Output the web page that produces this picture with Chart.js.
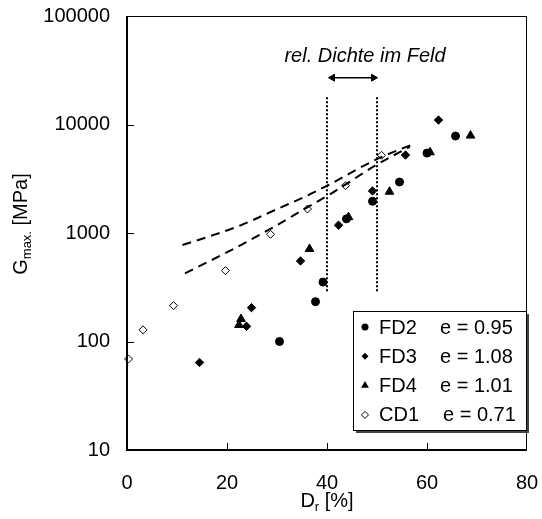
<!DOCTYPE html>
<html>
<head>
<meta charset="utf-8">
<script src="https://cdn.jsdelivr.net/npm/chart.js@4.4.0/dist/chart.umd.min.js"></script>
<style>
  html, body { margin: 0; padding: 0; background: #fff; }
  #wrap { width: 542px; height: 519px; }
</style>
</head>
<body>
<div id="wrap"><canvas id="chart" width="542" height="519"></canvas></div>
<script>
// measured series (Dr in %, Gmax in MPa)
const fd2X = [30.5, 37.7, 39.2, 43.9, 49.1, 54.5, 60.0, 65.7];
const fd2Y = [100, 233, 353, 1350, 1960, 2950, 5450, 7830];
const fd3X = [14.5, 23.9, 24.9, 34.7, 42.3, 49.1, 55.7, 62.3];
const fd3Y = [64, 138, 205, 552, 1180, 2440, 5230, 10990];
const fd4X = [22.4, 22.8, 36.5, 44.3, 52.5, 60.6, 68.7];
const fd4Y = [142, 161, 713, 1400, 2400, 5550, 7900];
const cd1X = [0.3, 3.2, 9.3, 19.7, 28.7, 36.1, 43.7, 50.9];
const cd1Y = [69, 128, 214, 450, 973, 1665, 2730, 5200];

// dashed bounds
const upperX = [11.1, 16.3, 22.9, 29.6, 36.3, 40.3, 49.9, 57.3];
const upperY = [775, 925, 1186, 1630, 2240, 2770, 4780, 6610];
const lowerX = [11.6, 19.6, 28.3, 36.3, 40.9, 49.9, 56.6];
const lowerY = [425, 650, 1066, 1750, 2320, 4250, 6250];

// field density range
const fieldX = [40, 50];
const fieldY = [290, 18300];
const arrowX = [41.1, 49.3];
const arrowY = 27000;

const seriesNames = ["FD2", "FD3", "FD4", "CD1"];
const voidRatios = ["0.95", "1.08", "1.01", "0.71"];
const xTicks = [0, 20, 40, 60, 80];
const yTicks = [10, 100, 1000, 10000, 100000];

const FONT = "'Liberation Sans', Arial, sans-serif";
Chart.defaults.font.family = FONT;
Chart.defaults.font.size = 20;
Chart.defaults.color = "#000";

const pts = (xs, ys) => xs.map((v, i) => ({ x: v, y: ys[i] }));

function marker(ctx, style, cx, cy, r) {
  ctx.beginPath();
  if (style === "circle") {
    ctx.arc(cx, cy, r, 0, Math.PI * 2);
  } else if (style === "triangle") {
    ctx.moveTo(cx, cy - r);
    ctx.lineTo(cx + r * 0.866, cy + r * 0.5);
    ctx.lineTo(cx - r * 0.866, cy + r * 0.5);
    ctx.closePath();
  } else {
    ctx.moveTo(cx, cy - r);
    ctx.lineTo(cx + r, cy);
    ctx.lineTo(cx, cy + r);
    ctx.lineTo(cx - r, cy);
    ctx.closePath();
  }
}

const decor = {
  id: "decor",
  afterDatasetsDraw(chart) {
    const { ctx, chartArea: a, scales } = chart;
    const xs = scales.x, ys = scales.y;
    ctx.save();

    // frame
    ctx.strokeStyle = "#000";
    ctx.lineWidth = 1;
    ctx.strokeRect(a.left, a.top + 0.5, a.right - a.left - 0.5, a.bottom - a.top);
    ctx.lineWidth = 2;
    ctx.beginPath();
    ctx.moveTo(a.left, a.top);
    ctx.lineTo(a.left, a.bottom);
    ctx.lineTo(a.right, a.bottom);
    ctx.stroke();

    // inward tick marks
    ctx.lineWidth = 1;
    ctx.beginPath();
    yTicks.slice(1, -1).forEach(v => {
      const py = Math.round(ys.getPixelForValue(v)) + 0.5;
      ctx.moveTo(a.left, py);
      ctx.lineTo(a.left + 7, py);
    });
    xTicks.slice(1, -1).forEach(v => {
      const px = Math.round(xs.getPixelForValue(v)) + 0.5;
      ctx.moveTo(px, a.bottom);
      ctx.lineTo(px, a.bottom - 7);
    });
    ctx.stroke();

    ctx.fillStyle = "#000";

    // annotation text above the arrow
    const ax = (xs.getPixelForValue(arrowX[0]) + xs.getPixelForValue(arrowX[1])) / 2 + 12;
    const ay = ys.getPixelForValue(arrowY);
    ctx.font = "italic 20px " + FONT;
    ctx.textAlign = "center";
    ctx.textBaseline = "alphabetic";
    ctx.fillText("rel. Dichte im Feld", ax, ay - 16);

    // x title: D_r [%]
    ctx.textAlign = "left";
    const big = "20px " + FONT, small = "13px " + FONT;
    ctx.font = big;
    const wD = ctx.measureText("D").width;
    const wRest = ctx.measureText(" [%]").width;
    ctx.font = small;
    const wr = ctx.measureText("r").width;
    let tx = (a.left + a.right) / 2 - (wD + wr + wRest) / 2;
    const tyb = 507;
    ctx.font = big;
    ctx.fillText("D", tx, tyb);
    ctx.font = small;
    ctx.fillText("r", tx + wD, tyb + 4);
    ctx.font = big;
    ctx.fillText(" [%]", tx + wD + wr, tyb);

    // y title: G_max. [MPa]
    ctx.save();
    ctx.translate(27, (a.top + a.bottom) / 2 - 9);
    ctx.rotate(-Math.PI / 2);
    ctx.font = big;
    const wG = ctx.measureText("G").width;
    const wM = ctx.measureText(" [MPa]").width;
    ctx.font = small;
    const wm = ctx.measureText("max.").width;
    let sx = -(wG + wm + wM) / 2;
    ctx.font = big;
    ctx.fillText("G", sx, 0);
    ctx.font = small;
    ctx.fillText("max.", sx + wG, 4);
    ctx.font = big;
    ctx.fillText(" [MPa]", sx + wG + wm, 0);
    ctx.restore();

    // legend box
    const lx = 353.5, ly = 311.5, lw = 173, lh = 119;
    ctx.fillStyle = "#444";
    ctx.fillRect(lx + 2.5, ly + 2.5, lw, lh);
    ctx.fillStyle = "#fff";
    ctx.fillRect(lx, ly, lw, lh);
    ctx.strokeStyle = "#000";
    ctx.lineWidth = 1;
    ctx.strokeRect(lx, ly, lw, lh);

    const styles = ["circle", "diamond", "triangle", "diamond"];
    const sizes = [3.5, 3.5, 4.5, 3.5];
    ctx.font = big;
    ctx.textBaseline = "middle";
    seriesNames.forEach((name, i) => {
      const ry = 327 + i * 29.3;
      marker(ctx, styles[i], 365, ry, sizes[i]);
      if (i === 3) {
        ctx.fillStyle = "#fff";
        ctx.fill();
        ctx.stroke();
      } else {
        ctx.fillStyle = "#000";
        ctx.fill();
      }
      ctx.fillStyle = "#000";
      ctx.fillText(name, 379, ry + 1);
      ctx.fillText("e = " + voidRatios[i], i === 3 ? 443 : 440, ry + 1);
    });

    ctx.restore();
  }
};

const dotted = (xv) => ({
  data: pts([xv, xv], fieldY),
  showLine: true,
  borderColor: "#000",
  borderWidth: 2,
  borderDash: [2, 2],
  pointRadius: 0,
  clip: false
});

const dashed = (xs, ys) => ({
  data: pts(xs, ys),
  showLine: true,
  borderColor: "#000",
  borderWidth: 2,
  borderDash: [9, 6],
  cubicInterpolationMode: "monotone",
  pointRadius: 0
});

new Chart(document.getElementById("chart"), {
  type: "scatter",
  data: {
    datasets: [
      dashed(upperX, upperY),
      dashed(lowerX, lowerY),
      dotted(fieldX[0]),
      dotted(fieldX[1]),
      {
        data: pts(arrowX, [arrowY, arrowY]),
        showLine: true,
        borderColor: "#000",
        borderWidth: 1.5,
        pointStyle: "triangle",
        pointRotation: [-90, 90],
        pointRadius: 4,
        pointBackgroundColor: "#000",
        pointBorderColor: "#000",
        pointBorderWidth: 1,
        clip: false
      },
      {
        label: seriesNames[3], data: pts(cd1X, cd1Y),
        pointStyle: "rectRot", pointRadius: 4,
        pointBackgroundColor: "#fff", pointBorderColor: "#000", pointBorderWidth: 1, clip: false
      },
      {
        label: seriesNames[2], data: pts(fd4X, fd4Y),
        pointStyle: "triangle", pointRadius: 5,
        pointBackgroundColor: "#000", pointBorderColor: "#000", pointBorderWidth: 1, clip: false
      },
      {
        label: seriesNames[1], data: pts(fd3X, fd3Y),
        pointStyle: "rectRot", pointRadius: 4.2,
        pointBackgroundColor: "#000", pointBorderColor: "#000", pointBorderWidth: 1, clip: false
      },
      {
        label: seriesNames[0], data: pts(fd2X, fd2Y),
        pointStyle: "circle", pointRadius: 4,
        pointBackgroundColor: "#000", pointBorderColor: "#000", pointBorderWidth: 1, clip: false
      }
    ]
  },
  options: {
    responsive: false,
    animation: false,
    layout: { padding: { left: 0, right: 15, top: 16, bottom: 0 } },
    plugins: { legend: { display: false }, tooltip: { enabled: false } },
    scales: {
      x: {
        type: "linear",
        min: 0, max: 80,
        grid: { display: false, drawTicks: false },
        border: { display: false },
        ticks: { stepSize: 20, padding: 21, maxRotation: 0 },
        afterFit: s => { s.height = 69; s.paddingLeft = 0; s.paddingRight = 0; }
      },
      y: {
        type: "logarithmic",
        min: 10, max: 100000,
        grid: { display: false, drawTicks: false },
        border: { display: false },
        ticks: { padding: 17, callback: v => String(v) },
        afterBuildTicks: s => { s.ticks = yTicks.map(v => ({ value: v })); },
        afterFit: s => { s.width = 127; s.paddingTop = 0; s.paddingBottom = 0; }
      }
    }
  },
  plugins: [decor]
});
</script>
</body>
</html>
